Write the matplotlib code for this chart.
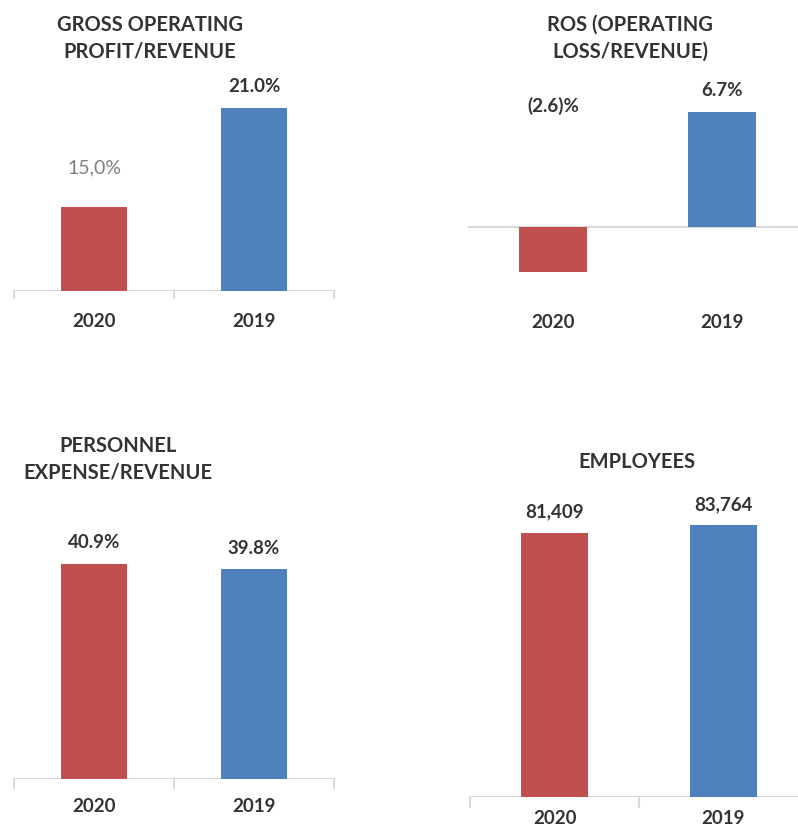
import matplotlib
matplotlib.use("Agg")
import matplotlib.pyplot as plt

plt.rcParams["font.family"] = ["Lato", "DejaVu Sans"]

W, H = 798, 830
red = "#C0504D"
blue = "#4F81BD"
dark = "#333333"
axis_grey = "#D9D9D9"

years = ["2020", "2019"]

# bar heights as drawn, and the labels printed on them
gop_values = [9.6, 21.0]
gop_labels = ["15,0%", "21.0%"]
ros_values = [-2.6, 6.7]
ros_labels = ["(2.6)%", "6.7%"]
pers_values = [40.9, 39.8]
pers_labels = ["40.9%", "39.8%"]
emp_values = [81409, 83764]
emp_labels = ["81,409", "83,764"]

fig = plt.figure(figsize=(W / 100, H / 100), dpi=100)


def px_axes(left, top, right, bottom):
    return fig.add_axes([left / W, 1 - bottom / H, (right - left) / W, (bottom - top) / H])


def panel(ax, values, labels, ylim, width, boundary_ticks=True, label_pad=8):
    ax.bar([0, 1], values, width=width, color=[red, blue])
    ax.set_xlim(-0.5, 1.5)
    ax.set_ylim(*ylim)
    for s in ["top", "left", "right", "bottom"]:
        ax.spines[s].set_visible(False)
    ax.axhline(0, color=axis_grey, lw=1.5, zorder=0)
    ax.set_yticks([])
    ax.set_xticks([0, 1])
    ax.set_xticklabels(years, fontsize=13.5, fontweight="bold", color=dark)
    ax.tick_params(axis="x", length=0, pad=label_pad)
    if boundary_ticks:
        for xb in [-0.5, 0.5, 1.5]:
            ax.plot([xb, xb], [0, -0.03 * (ylim[1] - ylim[0])], color=axis_grey,
                    lw=1.5, clip_on=False)
    for i, (v, lab) in enumerate(zip(values, labels)):
        ax.annotate(lab, (i, max(v, 0)), xytext=(0, 9), textcoords="offset points",
                    ha="center", va="bottom", fontsize=13.5, fontweight="bold", color=dark)


# gross operating profit / revenue
ax1 = px_axes(14, 60, 334, 291)
panel(ax1, gop_values, gop_labels, (0, 26.5), 0.41, label_pad=16)
# the 2020 label is shown in a lighter, regular style
t = ax1.texts[0]
t.set_color("#808080")
t.set_fontweight("normal")
t.set_fontsize(14)
t.xyann = (0, 22)

# ROS
ax2 = px_axes(468.5, 60, 806.5, 300)
panel(ax2, ros_values, ros_labels, (-4.24, 9.71), 0.40, boundary_ticks=False, label_pad=10)
ax2.texts[0].xy = (0, 6.7)
ax2.texts[0].xyann = (0, -2)

# personnel expense / revenue
ax3 = px_axes(14, 470, 334, 779)
panel(ax3, pers_values, pers_labels, (0, 58.7), 0.41, label_pad=14)

# employees
ax4 = px_axes(470, 480, 808, 797)
panel(ax4, emp_values, emp_labels, (0, 97750), 0.40, label_pad=9)

tkw = dict(ha="center", va="center", fontsize=14.5, fontweight="bold", color=dark,
           linespacing=1.4)
fig.text(150 / W, 1 - 38 / H, "GROSS OPERATING\nPROFIT/REVENUE", **tkw)
fig.text(630 / W, 1 - 38 / H, "ROS (OPERATING\nLOSS/REVENUE)", **tkw)
fig.text(118 / W, 1 - 459 / H, "PERSONNEL\nEXPENSE/REVENUE", **tkw)
fig.text(637 / W, 1 - 462 / H, "EMPLOYEES", **tkw)

fig.savefig("out.png", dpi=100, facecolor="white")
